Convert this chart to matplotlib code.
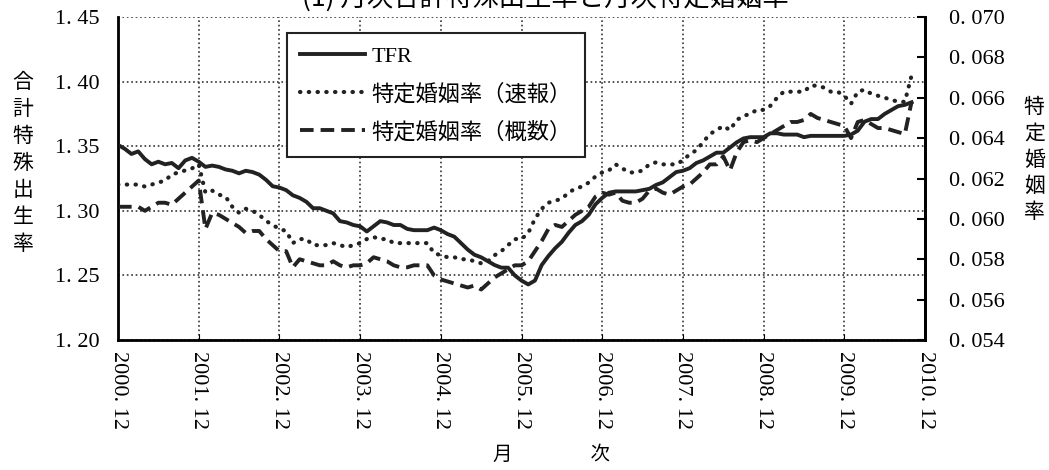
import numpy as np
import matplotlib
matplotlib.use("Agg")
import matplotlib.pyplot as plt

plt.rcParams['font.family'] = ['Liberation Serif', 'Noto Sans CJK JP', 'DejaVu Sans']

# monthly series, 2000.12 .. 2010.10
tfr = [1.351, 1.348, 1.344, 1.346, 1.340, 1.336, 1.338, 1.336, 1.337, 1.333,
       1.339, 1.341, 1.338, 1.334, 1.335, 1.334, 1.332, 1.331, 1.329, 1.331,
       1.330, 1.328, 1.324, 1.319, 1.318, 1.316, 1.312, 1.310, 1.307, 1.302,
       1.302, 1.300, 1.298, 1.292, 1.291, 1.289, 1.288, 1.284, 1.288, 1.292,
       1.291, 1.289, 1.289, 1.286, 1.285, 1.285, 1.285, 1.287, 1.285, 1.282,
       1.280, 1.275, 1.270, 1.266, 1.264, 1.261, 1.258, 1.256, 1.256, 1.250,
       1.246, 1.243, 1.246, 1.258, 1.265, 1.271, 1.276, 1.283, 1.289, 1.292,
       1.297, 1.305, 1.310, 1.314, 1.315, 1.315, 1.315, 1.315, 1.316, 1.317,
       1.320, 1.322, 1.326, 1.330, 1.331, 1.333, 1.337, 1.339, 1.342, 1.345,
       1.345, 1.349, 1.353, 1.356, 1.357, 1.357, 1.357, 1.360, 1.360, 1.359,
       1.359, 1.359, 1.357, 1.358, 1.358, 1.358, 1.358, 1.358, 1.358, 1.359,
       1.362, 1.369, 1.371, 1.371, 1.375, 1.378, 1.381, 1.382, 1.384]

sokuho = [0.0617, 0.0617, 0.0617, 0.0617, 0.0616, 0.0617, 0.0618, 0.0619, 0.0622, 0.0623,
          0.0624, 0.0625, 0.0627, 0.0613, 0.0614, 0.0612, 0.0611, 0.0606, 0.0603, 0.0605,
          0.0604, 0.0602, 0.0599, 0.0597, 0.0595, 0.0594, 0.0588, 0.0590, 0.0590, 0.0587,
          0.0587, 0.0587, 0.0588, 0.0587, 0.0586, 0.0587, 0.0588, 0.0590, 0.0591, 0.0590,
          0.0590, 0.0588, 0.0588, 0.0588, 0.0588, 0.0588, 0.0588, 0.0583, 0.0582, 0.0581,
          0.0581, 0.0580, 0.0580, 0.0579, 0.0578, 0.0579, 0.0582, 0.0584, 0.0587, 0.0590,
          0.0590, 0.0593, 0.0600, 0.0605, 0.0608, 0.0609, 0.0610, 0.0613, 0.0615, 0.0616,
          0.0618, 0.0621, 0.0623, 0.0624, 0.0627, 0.0625, 0.0623, 0.0623, 0.0624, 0.0627,
          0.0628, 0.0627, 0.0627, 0.0627, 0.0629, 0.0632, 0.0634, 0.0638, 0.0642, 0.0644,
          0.0646, 0.0644, 0.0649, 0.0651, 0.0652, 0.0654, 0.0654, 0.0656, 0.0660, 0.0663,
          0.0663, 0.0663, 0.0663, 0.0666, 0.0666, 0.0665, 0.0663, 0.0663, 0.0661, 0.0657,
          0.0663, 0.0664, 0.0662, 0.0661, 0.0660, 0.0659, 0.0658, 0.0658, 0.0671]

gaisu = [0.0606, 0.0606, 0.0606, 0.0606, 0.0604, 0.0606, 0.0608, 0.0608, 0.0607, 0.0610,
         0.0613, 0.0616, 0.0619, 0.0595, 0.0603, 0.0602, 0.0600, 0.0598, 0.0596, 0.0593,
         0.0594, 0.0594, 0.0590, 0.0587, 0.0584, 0.0584, 0.0576, 0.0580, 0.0579, 0.0578,
         0.0577, 0.0577, 0.0579, 0.0577, 0.0576, 0.0577, 0.0577, 0.0578, 0.0581, 0.0580,
         0.0579, 0.0577, 0.0576, 0.0576, 0.0577, 0.0577, 0.0577, 0.0572, 0.0570, 0.0569,
         0.0568, 0.0567, 0.0566, 0.0567, 0.0565, 0.0568, 0.0571, 0.0573, 0.0575, 0.0577,
         0.0577, 0.0579, 0.0584, 0.0589, 0.0595, 0.0597, 0.0596, 0.0599, 0.0602, 0.0604,
         0.0606, 0.0611, 0.0613, 0.0612, 0.0613, 0.0609, 0.0608, 0.0608, 0.0610, 0.0614,
         0.0615, 0.0613, 0.0612, 0.0614, 0.0616, 0.0617, 0.0620, 0.0623, 0.0627, 0.0627,
         0.0631, 0.0624, 0.0633, 0.0638, 0.0639, 0.0638, 0.0640, 0.0642, 0.0644, 0.0646,
         0.0648, 0.0648, 0.0649, 0.0652, 0.0650, 0.0649, 0.0648, 0.0647, 0.0646, 0.0640,
         0.0648, 0.0649, 0.0647, 0.0645, 0.0645, 0.0644, 0.0643, 0.0642, 0.0658]

xtick_labels = ["2000. 12", "2001. 12", "2002. 12", "2003. 12", "2004. 12", "2005. 12",
                "2006. 12", "2007. 12", "2008. 12", "2009. 12", "2010. 12"]
left_ticks = [1.20, 1.25, 1.30, 1.35, 1.40, 1.45]
left_labels = ["1. 20", "1. 25", "1. 30", "1. 35", "1. 40", "1. 45"]
right_ticks = [0.054, 0.056, 0.058, 0.060, 0.062, 0.064, 0.066, 0.068, 0.070]
right_labels = ["0. 054", "0. 056", "0. 058", "0. 060", "0. 062", "0. 064", "0. 066", "0. 068", "0. 070"]

x = np.arange(len(tfr))

fig = plt.figure(figsize=(10.49, 4.70), dpi=100)
ax1 = fig.add_axes([0.1125, 0.2766, 0.7693, 0.6872])

ax1.plot(x, tfr, color='#222222', linewidth=2.8, label='TFR', zorder=5)
ax1.set_xlim(0, 120)
ax1.set_ylim(1.20, 1.45)
ax1.set_yticks(left_ticks)
ax1.set_yticklabels(left_labels, fontsize=16)
ax1.set_xticks(np.arange(0, 121, 12))
ax1.set_xticklabels(xtick_labels, rotation=270, fontsize=16)
ax1.tick_params(axis='y', length=0, pad=13)
ax1.tick_params(axis='x', direction='in', length=4, pad=8)
ax1.grid(True, color='#333333', linestyle=':', linewidth=1.2)
ax1.spines['top'].set_visible(False)
for s in ['left', 'bottom', 'right']:
    ax1.spines[s].set_linewidth(2)

ax2 = ax1.twinx()
ax2.plot(x, sokuho, color='#222222', linewidth=3.0, linestyle=(0, (0.1, 2.0)),
         dash_capstyle='round', label='特定婚姻率（速報）')
ax2.plot(x, gaisu, color='#222222', linewidth=2.8, linestyle=(0, (3.5, 1.8)),
         label='特定婚姻率（概数）')
ax2.set_ylim(0.054, 0.070)
ax2.set_yticks(right_ticks)
ax2.set_yticklabels(right_labels, fontsize=16)
ax2.tick_params(axis='y', direction='in', length=6, width=1.5, pad=17)
ax2.spines['top'].set_visible(False)
ax2.spines['right'].set_linewidth(2)

# stacked vertical axis titles
fig.text(0.022, 0.653, '\n'.join('合計特殊出生率'), fontsize=15, ha='center', va='center',
         linespacing=1.3, family=['Noto Sans CJK JP'])
fig.text(0.986, 0.66, '\n'.join('特定婚姻率'), fontsize=15, ha='center', va='center',
         linespacing=1.25, family=['Noto Sans CJK JP'])
fig.text(0.526, 0.01, '月\u3000\u3000\u3000\u3000次', fontsize=14, ha='center', va='bottom',
         family=['Noto Sans CJK JP'])

# title, cut off at the top edge as in the source
fig.text(0.52, 0.976, '(1) 月次合計特殊出生率と月次特定婚姻率', fontsize=19, ha='center',
         va='bottom', family=['Noto Sans CJK JP'])

h1, l1 = ax1.get_legend_handles_labels()
h2, l2 = ax2.get_legend_handles_labels()
leg = ax2.legend(h1 + h2, l1 + l2, loc='upper left', bbox_to_anchor=(0.2094, 0.95),
                 handlelength=2.9, handletextpad=0.3, labelspacing=0.75, borderpad=0.6,
                 fancybox=False, framealpha=1, edgecolor='#222222', borderaxespad=0,
                 prop={'family': ['Liberation Serif', 'Noto Sans CJK JP'], 'size': 16})
leg.get_frame().set_linewidth(1.5)

fig.savefig('out.png', dpi=100)
